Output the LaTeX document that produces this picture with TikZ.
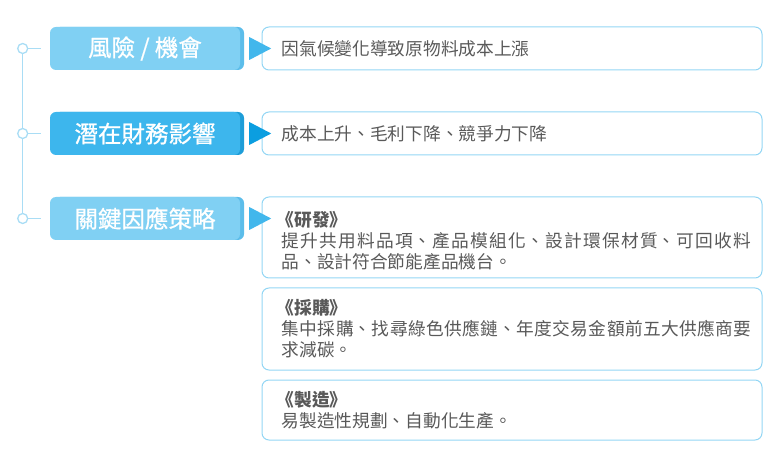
\documentclass[tikz,border=0pt]{standalone}
\usepackage{fontspec}
\newfontfamily\cjk{Noto Sans CJK TC}
\newfontfamily\cjklab[FakeBold=0.8]{Noto Sans CJK TC}
\XeTeXlinebreaklocale "zh"
\XeTeXlinebreakskip=0pt plus 1pt
\usepackage{xcolor}
\usetikzlibrary{positioning}

\definecolor{nhat}{HTML}{80D0F3}
\definecolor{nhatdam}{HTML}{5CBDEA}
\definecolor{dam}{HTML}{3DB6ED}
\definecolor{damdam}{HTML}{1E9DD8}
\definecolor{tamgiac}{HTML}{42B7EC}
\definecolor{tamgiacdam}{HTML}{0B9EE0}
\definecolor{khung}{HTML}{93D6F4}
\definecolor{duong}{HTML}{A9DDF5}
\definecolor{chu}{HTML}{595959}

\newcommand{\tieude}[1]{\hspace*{-5pt}\textbf{#1}}

\tikzset{
    labelbox/.style={rounded corners=6pt, minimum width=190pt, minimum height=43pt,
        inner sep=0pt, text=white, font=\cjklab\fontsize{23.5}{26}\selectfont},
    framebox/.style={draw=khung, line width=1pt, rounded corners=7pt,
        minimum width=500pt, inner sep=0pt},
    desc/.style={text=chu, font=\cjk\fontsize{17.7}{21}\selectfont,
        text width=470pt, align=justify, inner sep=0pt},
    dot/.style={circle, draw=duong, line width=1.3pt, fill=white,
        minimum size=10pt, inner sep=0pt},
}

\begin{document}
\begin{tikzpicture}[x=1pt, y=-1pt]
    \useasboundingbox (0,0) rectangle (782,462);

    % Các mục bên trái
    \foreach \i/\y/\mau/\bong/\tam/\txt in {
        1/48.5/nhat/nhatdam/tamgiac/{風險 / 機會},
        2/133.5/dam/damdam/tamgiacdam/{潛在財務影響},
        3/218.5/nhat/nhatdam/tamgiac/{關鍵因應策略}} {
        \node[dot] (c\i) at (22.7,\y) {};
        \coordinate (s\i) at (41,\y);
        \draw[duong, line width=1.3pt] (c\i.east) -- (s\i);
        \node[labelbox, fill=\bong] (bong\i) at (149,\y) {};
        \node[labelbox, fill=\mau] (lab\i) at (145,\y) {\txt};
    }
    \draw[duong, line width=1.3pt] (c1.south) -- (c2.north) (c2.south) -- (c3.north);

    % Các khung nội dung
    \node[framebox, minimum height=43pt] (k1) at (512,48.5) {};
    \node[framebox, minimum height=43pt] (k2) at (512,133.5) {};
    \node[framebox, minimum height=81pt] (k3) at (512,237.5) {};
    \node[framebox, minimum height=82pt] (k4) at (512,329) {};
    \node[framebox, minimum height=60pt] (k5) at (512,410) {};

    \node[desc, right=20pt of k1.west] (t1) {因氣候變化導致原物料成本上漲};
    \node[desc, right=20pt of k2.west] (t2) {成本上升、毛利下降、競爭力下降};
    \node[desc, right=20pt of k3.west, yshift=-3pt] (t3)
        {\tieude{《研發》}\\提升共用料品項、產品模組化、設計環保材質、可回收料品、設計符合節能產品機台。};
    \node[desc, right=20pt of k4.west] (t4)
        {\tieude{《採購》}\\集中採購、找尋綠色供應鏈、年度交易金額前五大供應商要求減碳。};
    \node[desc, right=20pt of k5.west] (t5)
        {\tieude{《製造》}\\易製造性規劃、自動化生產。};

    % Tam giác chỉ hướng
    \foreach \i/\tam in {1/tamgiac, 2/tamgiacdam, 3/tamgiac} {
        \fill[\tam] ([xshift=9pt]lab\i.east) ++(0,-11.5) -- ++(22,11.5) -- ++(-22,11.5) -- cycle;
    }
\end{tikzpicture}
\end{document}
